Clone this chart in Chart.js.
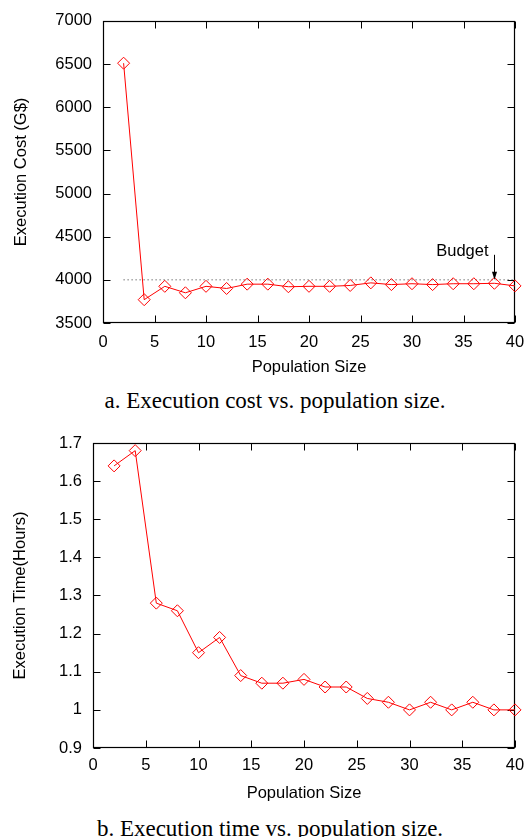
<!DOCTYPE html>
<html>
<head>
<meta charset="utf-8">
<script src="https://cdn.jsdelivr.net/npm/chart.js@4/dist/chart.umd.min.js"></script>
<style>
  html, body { margin: 0; padding: 0; background: #fff; }
  body { width: 529px; height: 837px; position: relative; overflow: hidden; }
  .box { position: absolute; left: 0; width: 529px; }
  .caption {
    position: absolute;
    width: 440px;
    text-align: center;
    font-family: "Liberation Serif", "Times New Roman", serif;
    font-size: 23px;
    line-height: 23px;
    color: #000;
    white-space: nowrap;
  }
</style>
</head>
<body>
<div class="box" style="top:0;height:380px"><canvas id="chart-cost"></canvas></div>
<div class="caption" style="left:55px;top:389px">a. Execution cost vs. population size.</div>
<div class="box" style="top:420px;height:385px"><canvas id="chart-time"></canvas></div>
<div class="caption" style="left:50px;top:817px">b. Execution time vs. population size.</div>

<script>
// data
var populationSizes = [2, 4, 6, 8, 10, 12, 14, 16, 18, 20, 22, 24, 26, 28, 30, 32, 34, 36, 38, 40];
var executionCost = [6510, 3770, 3925, 3850, 3925, 3900, 3950, 3950, 3920, 3925,
  3925, 3935, 3965, 3945, 3955, 3945, 3955, 3955, 3960, 3930];
var executionTime = [1.64, 1.68, 1.28, 1.26, 1.15, 1.19, 1.09, 1.07, 1.07, 1.08,
  1.06, 1.06, 1.03, 1.02, 1.0, 1.02, 1.0, 1.02, 1.0, 1.0];

var budgetLineX = [2, 40];
var budgetValue = 4000;
var budgetLabel = "Budget";
var budgetArrowAt = 38;
var budgetArrowFrom = 4290;
var budgetLabelY = 4280;

var xTicks = { min: 0, max: 40, step: 5 };
var costTicks = { min: 3500, max: 7000, step: 500 };
var timeTicks = { min: 0.9, max: 1.7, step: 0.1 };

function points(xs, ys) {
  return xs.map(function (x, i) {
    return { x: x, y: ys[i] };
  });
}

var sans = "'Liberation Sans', Arial, Helvetica, sans-serif";
var fontSize = 16.5;

// gnuplot style box with inward ticks on all four sides
var frame = {
  id: "frame",
  beforeDatasetsDraw: function (chart) {
    var a = chart.chartArea;
    var c = chart.ctx;
    var sx = chart.scales.x;
    var sy = chart.scales.y;
    var len = 7;
    var l = Math.round(a.left) + 0.5;
    var r = Math.round(a.right) - 0.5;
    var t = Math.round(a.top) + 0.5;
    var b = Math.round(a.bottom) - 0.5;
    c.save();
    c.strokeStyle = "#000";
    c.lineWidth = 1;
    c.beginPath();
    sx.ticks.forEach(function (tk) {
      var px = Math.round(sx.getPixelForValue(tk.value)) + 0.5;
      c.moveTo(px, b);
      c.lineTo(px, b - len);
      c.moveTo(px, t);
      c.lineTo(px, t + len);
    });
    sy.ticks.forEach(function (tk) {
      var py = Math.round(sy.getPixelForValue(tk.value)) + 0.5;
      c.moveTo(l, py);
      c.lineTo(l + len, py);
      c.moveTo(r, py);
      c.lineTo(r - len, py);
    });
    c.stroke();
    c.lineWidth = 1.2;
    c.strokeRect(l, t, r - l, b - t);
    c.restore();
  },
};

var budgetNote = {
  id: "budgetNote",
  afterDatasetsDraw: function (chart) {
    if (chart.canvas.id !== "chart-cost") return;
    var sx = chart.scales.x;
    var sy = chart.scales.y;
    var c = chart.ctx;
    var px = Math.round(sx.getPixelForValue(budgetArrowAt)) + 0.5;
    var from = sy.getPixelForValue(budgetArrowFrom);
    var tip = sy.getPixelForValue(budgetValue);
    c.save();
    c.strokeStyle = "#000";
    c.fillStyle = "#000";
    c.lineWidth = 1;
    c.beginPath();
    c.moveTo(px, from);
    c.lineTo(px, tip - 5);
    c.stroke();
    c.beginPath();
    c.moveTo(px - 2.5, tip - 8);
    c.lineTo(px + 2.5, tip - 8);
    c.lineTo(px, tip);
    c.closePath();
    c.fill();
    c.font = fontSize + "px " + sans;
    c.textAlign = "right";
    c.textBaseline = "alphabetic";
    c.fillText(budgetLabel, px - 6, sy.getPixelForValue(budgetLabelY));
    c.restore();
  },
};

var ctx = document.getElementById("chart-cost").getContext("2d");

new Chart(ctx, {
  type: "line",
  data: {
    datasets: [
      {
        label: "Cost",
        data: points(populationSizes, executionCost),
        borderColor: "#ff0000",
        borderWidth: 1,
        tension: 0,
        pointStyle: "rectRot",
        pointRadius: 6,
        pointBorderWidth: 1,
        pointBorderColor: "#ff0000",
        pointBackgroundColor: "rgba(255,255,255,0)",
        clip: false,
        order: 1,
      },
      {
        label: "Budget",
        data: points(budgetLineX, [budgetValue, budgetValue]),
        borderColor: "#333",
        borderWidth: 1,
        borderDash: [1, 3],
        pointRadius: 0,
        order: 2,
      },
    ],
  },
  options: {
    responsive: true,
    maintainAspectRatio: false,
    animation: false,
    events: [],
    layout: {
      padding: { top: 17, right: 14, bottom: 3, left: 0 },
    },
    plugins: {
      legend: { display: false },
      tooltip: { enabled: false },
    },
    scales: {
      x: {
        type: "linear",
        min: xTicks.min,
        max: xTicks.max,
        afterFit: function (scale) {
          scale.height = 54;
          scale.paddingLeft = 0;
          scale.paddingRight = 0;
        },
        grid: { display: false, drawTicks: false },
        border: { display: false },
        ticks: {
          stepSize: xTicks.step,
          padding: 10,
          maxRotation: 0,
          autoSkip: false,
          color: "#000",
          font: { size: fontSize, family: sans },
        },
        title: {
          display: true,
          text: "Population Size",
          color: "#000",
          padding: { top: 0, bottom: 0 },
          font: { size: fontSize, family: sans },
        },
      },
      y: {
        min: costTicks.min,
        max: costTicks.max,
        afterFit: function (scale) {
          scale.width = 103;
        },
        grid: { display: false, drawTicks: false },
        border: { display: false },
        ticks: {
          stepSize: costTicks.step,
          padding: 11,
          color: "#000",
          font: { size: fontSize, family: sans },
          callback: function (value) {
            return String(value);
          },
        },
        title: {
          display: true,
          text: "Execution Cost (G$)",
          color: "#000",
          padding: { top: 12, bottom: 0 },
          font: { size: fontSize, family: sans },
        },
      },
    },
  },
  plugins: [frame, budgetNote],
});

var ctx = document.getElementById("chart-time").getContext("2d");

new Chart(ctx, {
  type: "line",
  data: {
    datasets: [
      {
        label: "Time",
        data: points(populationSizes, executionTime),
        borderColor: "#ff0000",
        borderWidth: 1,
        tension: 0,
        pointStyle: "rectRot",
        pointRadius: 6,
        pointBorderWidth: 1,
        pointBorderColor: "#ff0000",
        pointBackgroundColor: "rgba(255,255,255,0)",
        clip: false,
      },
    ],
  },
  options: {
    responsive: true,
    maintainAspectRatio: false,
    animation: false,
    events: [],
    layout: {
      padding: { top: 23, right: 14, bottom: 2, left: 0 },
    },
    plugins: {
      legend: { display: false },
      tooltip: { enabled: false },
    },
    scales: {
      x: {
        type: "linear",
        min: xTicks.min,
        max: xTicks.max,
        afterFit: function (scale) {
          scale.height = 55;
          scale.paddingLeft = 0;
          scale.paddingRight = 0;
        },
        grid: { display: false, drawTicks: false },
        border: { display: false },
        ticks: {
          stepSize: xTicks.step,
          padding: 8,
          maxRotation: 0,
          autoSkip: false,
          color: "#000",
          font: { size: fontSize, family: sans },
        },
        title: {
          display: true,
          text: "Population Size",
          color: "#000",
          padding: { top: 0, bottom: 0 },
          font: { size: fontSize, family: sans },
        },
      },
      y: {
        min: timeTicks.min,
        max: timeTicks.max,
        afterFit: function (scale) {
          scale.width = 93;
        },
        grid: { display: false, drawTicks: false },
        border: { display: false },
        ticks: {
          stepSize: timeTicks.step,
          padding: 11,
          color: "#000",
          font: { size: fontSize, family: sans },
          callback: function (value) {
            return String(Math.round(value * 10) / 10);
          },
        },
        title: {
          display: true,
          text: "Execution Time(Hours)",
          color: "#000",
          padding: { top: 11, bottom: 0 },
          font: { size: fontSize, family: sans },
        },
      },
    },
  },
  plugins: [frame],
});
</script>
</body>
</html>
